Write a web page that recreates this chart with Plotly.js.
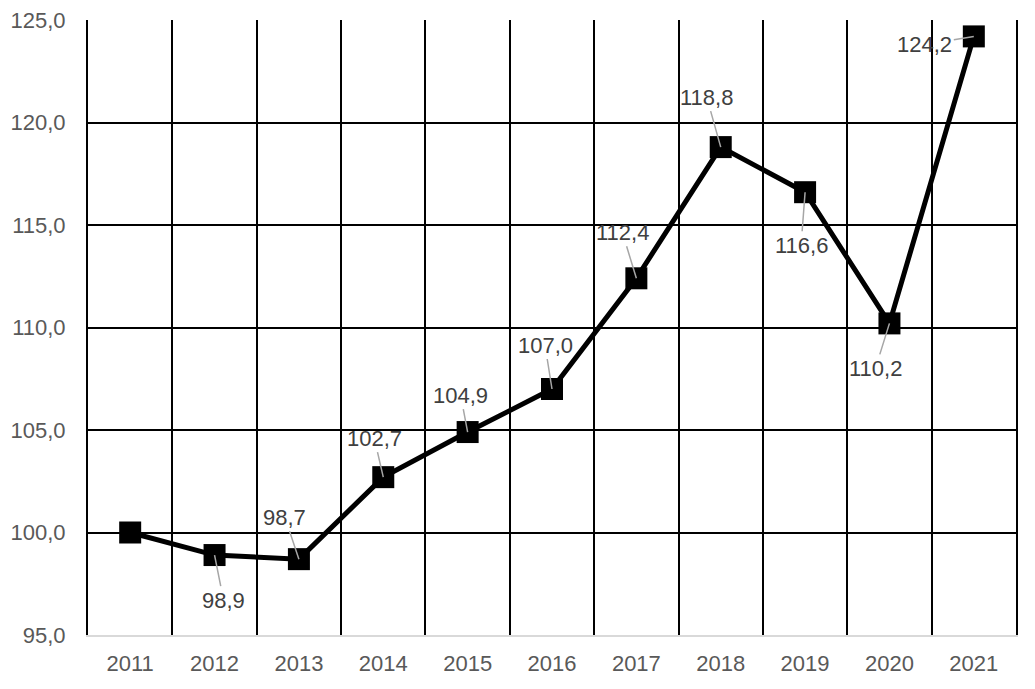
<!DOCTYPE html>
<html>
<head>
<meta charset="utf-8">
<script src="https://cdn.plot.ly/plotly-3.0.1.min.js"></script>
<style>html,body{margin:0;padding:0;background:#fff;}#chart{width:1035px;height:689px;}</style>
</head>
<body>
<div id="chart"></div>
<script>
const years = ['2011','2012','2013','2014','2015','2016','2017','2018','2019','2020','2021'];
const values = [100.0, 98.9, 98.7, 102.7, 104.9, 107.0, 112.4, 118.8, 116.6, 110.2, 124.2];
const labelText = ['', '98,9', '98,7', '102,7', '104,9', '107,0', '112,4', '118,8', '116,6', '110,2', '124,2'];
const yTicks = [95, 100, 105, 110, 115, 120, 125];
const yTickText = ['95,0', '100,0', '105,0', '110,0', '115,0', '120,0', '125,0'];
// label offsets in pixels (styling)
const offsets = [null, [9,45], [-14,-42], [-9,-39], [-7,-37], [-7,-44], [-14,-46], [-14,-50], [-4,53], [-14,45], [-49,8]];

const annotations = [];
years.forEach((y, i) => {
  if (!labelText[i]) return;
  annotations.push({
    x: i, y: values[i], xref: 'x', yref: 'y',
    text: labelText[i],
    showarrow: true, arrowhead: 0, arrowwidth: 1.5, arrowcolor: '#a6a6a6',
    ax: offsets[i][0], ay: offsets[i][1], standoff: 0, startstandoff: 0,
    font: {family: 'Liberation Sans, Arial, sans-serif', size: 22, color: '#404040'}
  });
});

const trace = {
  x: years, y: values, type: 'scatter', mode: 'lines+markers',
  line: {color: '#000', width: 5},
  marker: {symbol: 'square', size: 22, color: '#000'},
  cliponaxis: false, hoverinfo: 'skip'
};

const layout = {
  width: 1035, height: 689,
  margin: {l: 88, r: 19, t: 20, b: 54},
  paper_bgcolor: '#fff', plot_bgcolor: '#fff',
  showlegend: false,
  font: {family: 'Liberation Sans, Arial, sans-serif', size: 22, color: '#595959'},
  xaxis: {
    type: 'category', tickson: 'boundaries', range: [-0.5, years.length - 0.5],
    showgrid: true, gridcolor: '#000', gridwidth: 2,
    showline: true, linecolor: '#d9d9d9', linewidth: 2,
    ticks: '', ticklabelstandoff: 8,
    tickfont: {size: 22, color: '#595959'},
    zeroline: false, fixedrange: true
  },
  yaxis: {
    range: [95, 125], tickvals: yTicks, ticktext: yTickText,
    showgrid: true, gridcolor: '#000', gridwidth: 2,
    showline: true, linecolor: '#000', linewidth: 2, mirror: true,
    ticks: '', ticklabelstandoff: 16,
    tickfont: {size: 22, color: '#595959'},
    zeroline: false, fixedrange: true
  },
  annotations: annotations
};

Plotly.newPlot('chart', [trace], layout, {displayModeBar: false, staticPlot: true});
</script>
</body>
</html>
